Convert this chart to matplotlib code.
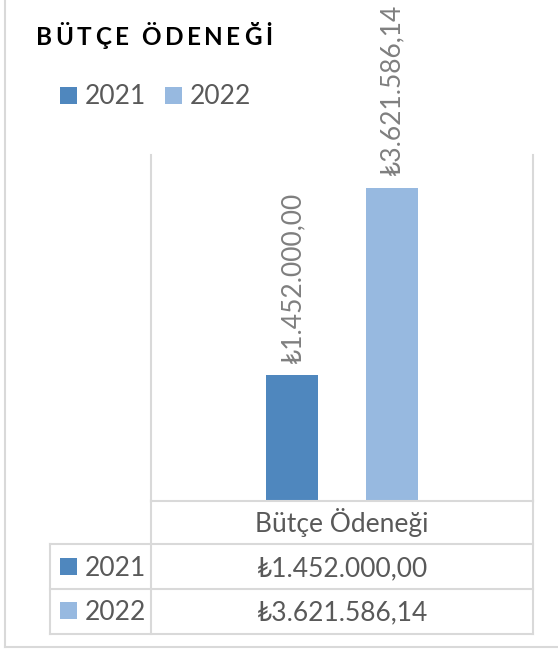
import matplotlib
matplotlib.use("Agg")
import matplotlib.pyplot as plt
from matplotlib.patches import Rectangle
from matplotlib.lines import Line2D

# ---- data ----
title = "BÜTÇE ÖDENEĞİ"
category = "Bütçe Ödeneği"
years = ["2021", "2022"]
amounts = [1452000.00, 3621586.14]
colors = ["#4F87BE", "#97B9E0"]

plt.rcParams['font.family'] = ['Lato', 'DejaVu Sans']

W, H = 558, 649
DPI = 100
fig = plt.figure(figsize=(W / DPI, H / DPI), dpi=DPI)
fig.patch.set_facecolor("white")

GRID = "#D9D9D9"
TXT = "#595959"
LBL = "#7F7F7F"
FS = 19


def fx(px):
    return px / W


def fy(py):
    return 1 - py / H


def lira(v):
    s = f"{v:,.2f}"
    return "₺" + s.replace(",", "X").replace(".", ",").replace("X", ".")


def hline(y, x0, x1, lw=1.5):
    fig.add_artist(Line2D([fx(x0), fx(x1)], [fy(y), fy(y)], color=GRID,
                          lw=lw, transform=fig.transFigure))


def vline(x, y0, y1, lw=1.5):
    fig.add_artist(Line2D([fx(x), fx(x)], [fy(y0), fy(y1)], color=GRID,
                          lw=lw, transform=fig.transFigure))


def key(x, y, color, size=17):
    fig.add_artist(Rectangle((fx(x), fy(y + size)), size / W, size / H,
                             facecolor=color, edgecolor="none",
                             transform=fig.transFigure))


# ---- plot area ----
ax = fig.add_axes([fx(151), fy(501), fx(533) - fx(151), fy(155) - fy(501)])
ax.set_xlim(-0.5, 0.5)
ax.set_ylim(0, 4_000_000)
offsets = [-0.13, 0.13]
width = 0.136
for off, v, c, y in zip(offsets, amounts, colors, years):
    ax.bar(off, v, width=width, color=c, label=y, zorder=2)
    ax.annotate(lira(v), (off, v), xytext=(0, 9), textcoords="offset points",
                rotation=90, ha="center", va="bottom", fontsize=FS, color=LBL)
ax.set_xticks([])
ax.set_yticks([])
ax.spines["top"].set_visible(False)
for s in ["left", "right", "bottom"]:
    ax.spines[s].set_color(GRID)
    ax.spines[s].set_linewidth(1.5)

# ---- data table ----
vline(151, 501, 634)
vline(533, 501, 634)
vline(50, 544, 634)
for yy in (544, 589, 634):
    hline(yy, 50, 533)

fig.text(fx(342), fy(532), category, ha="center", va="baseline",
         fontsize=FS, color=TXT)
row_base = [576, 620]
for yr, v, c, yb in zip(years, amounts, colors, row_base):
    key(60, yb - 18, c)
    fig.text(fx(85), fy(yb), yr, ha="left", va="baseline", fontsize=FS, color=TXT)
    fig.text(fx(342), fy(yb), lira(v), ha="center", va="baseline",
             fontsize=FS, color=TXT)

# ---- legend ----
leg_x = [60, 165]
for yr, c, x in zip(years, colors, leg_x):
    key(x, 87, c)
    fig.text(fx(x + 25), fy(104), yr, ha="left", va="baseline",
             fontsize=FS, color=TXT)

# ---- title with letter spacing ----
renderer = fig.canvas.get_renderer()
tfs = 17.5
widths = []
for ch in title:
    if ch == " ":
        widths.append(None)
        continue
    t = fig.text(0, 0, ch, fontsize=tfs, fontweight="bold")
    widths.append(t.get_window_extent(renderer).width)
    t.remove()
space_w = tfs * DPI / 72 * 0.25
widths = [space_w if w is None else w for w in widths]
target = 236
track = (target - sum(widths)) / (len(title) - 1)
x = 36
for ch, w in zip(title, widths):
    if ch != " ":
        fig.text(fx(x), fy(45), ch, ha="left", va="baseline", fontsize=tfs,
                 fontweight="bold", color="black")
    x += w + track

# ---- chart frame ----
vline(5, 0, 647)
hline(647, 5, 558)

fig.savefig("out.png", dpi=DPI, facecolor="white")
